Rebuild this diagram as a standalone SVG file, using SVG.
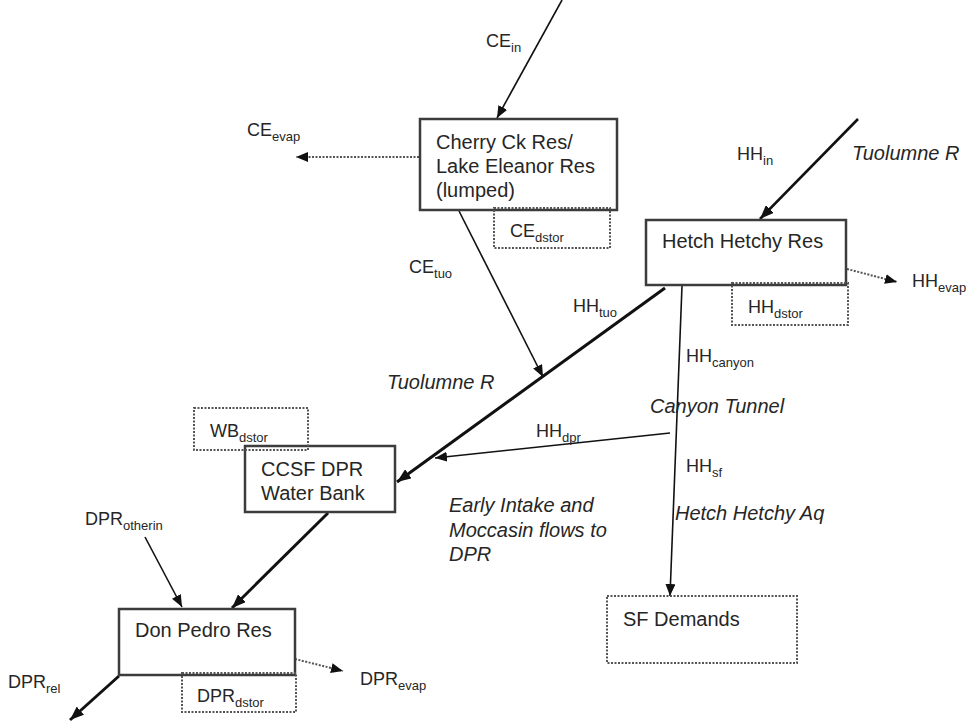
<svg xmlns="http://www.w3.org/2000/svg" width="973" height="725" viewBox="0 0 973 725">
  <defs>
    <style>
      .box{fill:#fff;stroke:#3c3c3c;stroke-width:2.5}
      .dbox{fill:none;stroke:#555;stroke-width:2;stroke-dasharray:2 1.5}
      text{font-family:"Liberation Sans",Arial,sans-serif;fill:#262626}
      .t{font-size:20px}
      .lab{font-size:18px}
      .sub{font-size:13px}
      .it{font-style:italic;font-size:20px}
      .thin{stroke:#111;stroke-width:1.6;fill:none;marker-end:url(#ah)}
      .thick{stroke:#111;stroke-width:3;fill:none;marker-end:url(#ahb)}
      .dot{stroke:#555;stroke-width:2;stroke-dasharray:2 1.5;fill:none;marker-end:url(#ahd)}
    </style>
    <marker id="ah" viewBox="0 0 12 10" refX="12" refY="5" markerWidth="12" markerHeight="10" markerUnits="userSpaceOnUse" orient="auto">
      <path d="M0,0 L12,5 L0,10 z" fill="#111"/>
    </marker>
    <marker id="ahb" viewBox="0 0 14 11" refX="14" refY="5.5" markerWidth="14" markerHeight="11" markerUnits="userSpaceOnUse" orient="auto">
      <path d="M0,0 L14,5.5 L0,11 z" fill="#111"/>
    </marker>
    <marker id="ahd" viewBox="0 0 12 10" refX="12" refY="5" markerWidth="12" markerHeight="10" markerUnits="userSpaceOnUse" orient="auto">
      <path d="M0,0 L12,5 L0,10 z" fill="#111"/>
    </marker>
  </defs>
  <rect width="973" height="725" fill="#fff"/>

  <!-- flows between reservoirs -->
  <g id="connectors">
    <line class="thin" x1="562" y1="0" x2="497" y2="118"/>
    <line class="dot" x1="419" y1="157" x2="296" y2="157"/>
    <line class="thin" x1="459" y1="211" x2="543" y2="377"/>
    <line class="thick" x1="858" y1="119" x2="760" y2="219" style="stroke-width:2.6"/>
    <line class="dot" x1="847" y1="269" x2="897" y2="282"/>
    <line class="thick" x1="665" y1="288" x2="397" y2="482"/>
    <line class="thin" x1="682" y1="286" x2="670" y2="596"/>
    <line class="thin" x1="670" y1="433" x2="435" y2="458"/>
    <line class="thick" x1="328" y1="513" x2="232" y2="608"/>
    <line class="thin" x1="145" y1="537" x2="182" y2="607"/>
    <line class="dot" x1="295" y1="659" x2="343" y2="671"/>
    <line class="thick" x1="119" y1="676" x2="70" y2="720"/>
  </g>

  <!-- flow labels -->
  <g id="labels">
    <text class="lab" x="486" y="47">CE<tspan class="sub" dy="5">in</tspan></text>
    <text class="lab" x="247" y="136">CE<tspan class="sub" dy="5">evap</tspan></text>
    <text class="lab" x="409" y="273">CE<tspan class="sub" dy="5">tuo</tspan></text>
    <text class="lab" x="737" y="160">HH<tspan class="sub" dy="5">in</tspan></text>
    <text class="it" x="852" y="160">Tuolumne R</text>
    <text class="lab" x="912" y="287">HH<tspan class="sub" dy="5">evap</tspan></text>
    <text class="lab" x="573" y="312">HH<tspan class="sub" dy="5">tuo</tspan></text>
    <text class="it" x="387" y="389">Tuolumne R</text>
    <text class="lab" x="686" y="362">HH<tspan class="sub" dy="5">canyon</tspan></text>
    <text class="it" x="650" y="413">Canyon Tunnel</text>
    <text class="lab" x="536" y="437">HH<tspan class="sub" dy="5">dpr</tspan></text>
    <text class="lab" x="686" y="472">HH<tspan class="sub" dy="5">sf</tspan></text>
    <text class="it" x="449" y="512">Early Intake and</text>
    <text class="it" x="449" y="537">Moccasin flows to</text>
    <text class="it" x="449" y="561">DPR</text>
    <text class="it" x="675" y="520">Hetch Hetchy Aq</text>
    <text class="lab" x="85" y="525">DPR<tspan class="sub" dy="5">otherin</tspan></text>
    <text class="lab" x="360" y="685">DPR<tspan class="sub" dy="5">evap</tspan></text>
    <text class="lab" x="8" y="688">DPR<tspan class="sub" dy="5">rel</tspan></text>
  </g>

  <g id="cherry">
    <rect class="box" x="420" y="119" width="197" height="91"/>
    <text class="t" x="436" y="149">Cherry Ck Res/</text>
    <text class="t" x="436" y="173">Lake Eleanor Res</text>
    <text class="t" x="436" y="197">(lumped)</text>
  </g>
  <g id="ce-dstor">
    <rect class="dbox" x="494" y="208" width="116" height="40"/>
    <text class="lab" x="510" y="237">CE<tspan class="sub" dy="5">dstor</tspan></text>
  </g>

  <g id="hetch">
    <rect class="box" x="646" y="220" width="200" height="65"/>
    <text class="t" x="662" y="248">Hetch Hetchy Res</text>
  </g>
  <g id="hh-dstor">
    <rect class="dbox" x="732" y="283" width="116" height="42"/>
    <text class="lab" x="748" y="313">HH<tspan class="sub" dy="5">dstor</tspan></text>
  </g>

  <g id="ccsf">
    <rect class="box" x="245" y="446" width="150" height="66"/>
    <text class="t" x="261" y="476">CCSF DPR</text>
    <text class="t" x="261" y="500">Water Bank</text>
  </g>
  <g id="wb-dstor">
    <rect class="dbox" x="194" y="408" width="114" height="42"/>
    <text class="lab" x="210" y="437">WB<tspan class="sub" dy="5">dstor</tspan></text>
  </g>

  <g id="donpedro">
    <rect class="box" x="119" y="609" width="176" height="66"/>
    <text class="t" x="135" y="637">Don Pedro Res</text>
  </g>
  <g id="dpr-dstor">
    <rect class="dbox" x="182" y="673" width="114" height="39"/>
    <text class="lab" x="197" y="702">DPR<tspan class="sub" dy="5">dstor</tspan></text>
  </g>

  <g id="sf-demands">
    <rect class="dbox" x="607" y="596" width="190" height="67"/>
    <text class="t" x="623" y="626">SF Demands</text>
  </g>
</svg>
